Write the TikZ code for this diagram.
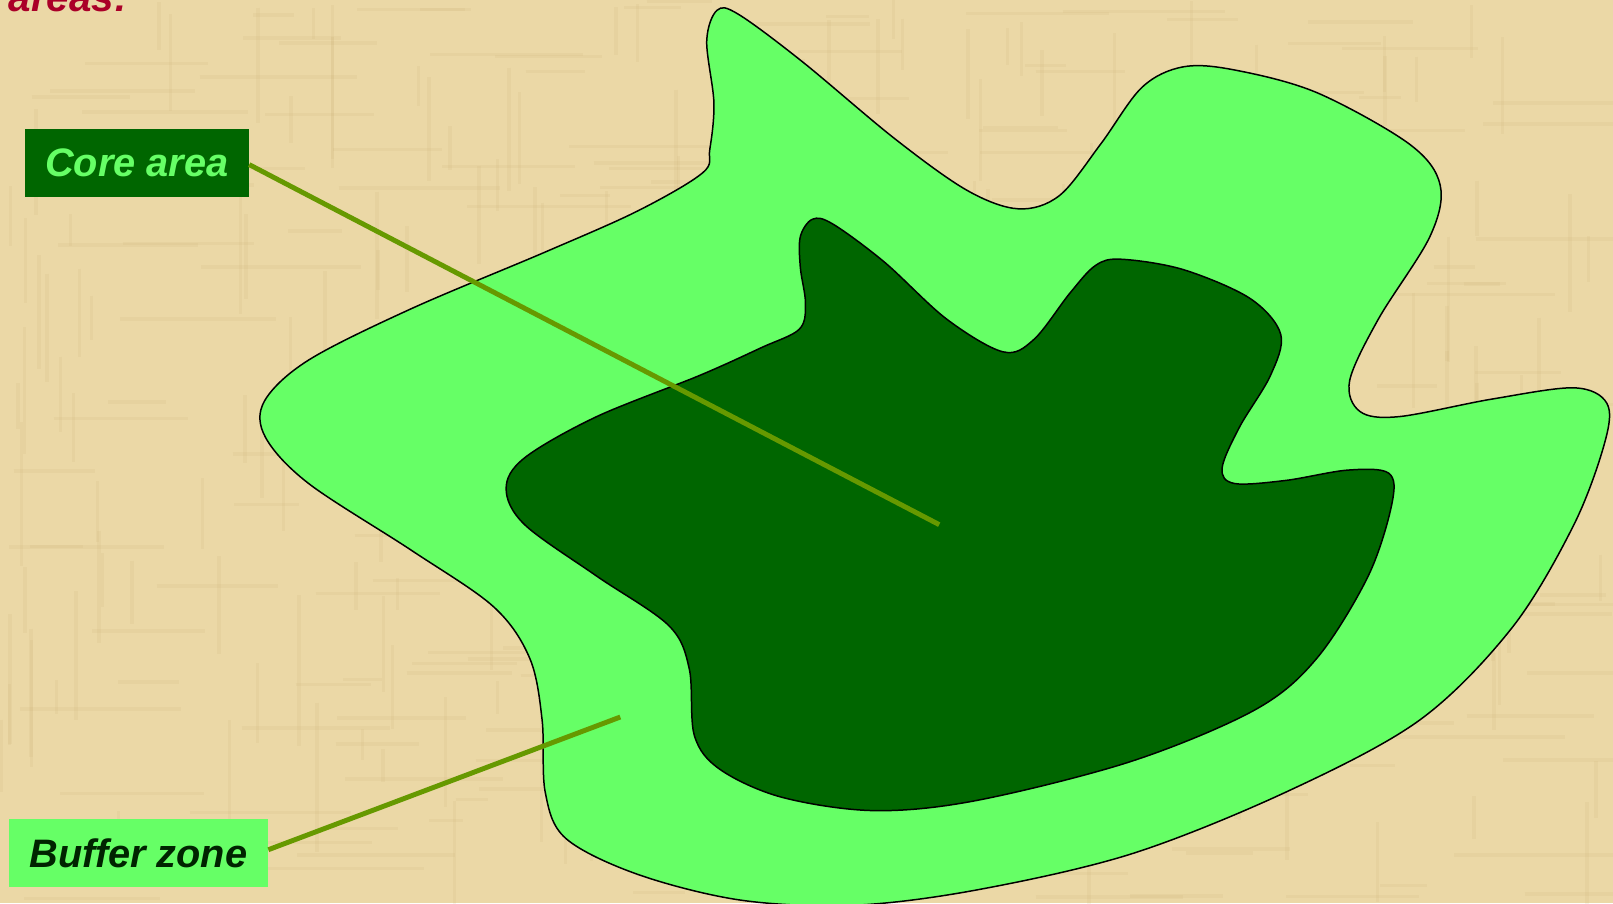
\documentclass[tikz,border=0pt]{standalone}
\usepackage{fontspec}
\setmainfont{Liberation Sans}
\usepackage{xcolor}
\usepackage{tikz}
\usetikzlibrary{positioning}

\definecolor{parchment}{RGB}{235,216,166}
\definecolor{grain}{RGB}{200,170,110}
\definecolor{bufferclr}{RGB}{102,255,102}
\definecolor{coreclr}{RGB}{0,102,0}
\definecolor{leaderclr}{RGB}{102,153,0}
\definecolor{titleclr}{RGB}{170,0,40}

\begin{document}
\begin{tikzpicture}[x=0.02057cm, y=-0.02057cm,
    zone/.style={draw=black, line width=0.85pt},
    tag/.style={inner sep=0pt, minimum height=1.36cm, font=\fontsize{22.6}{26}\selectfont\bfseries\itshape},
    leader/.style={draw=leaderclr, line width=2.8pt},
    fibre/.style={draw=grain, opacity=0.12, line width=2pt}]
    % Background
    \fill[parchment] (0,0) rectangle (1568,878);
    \useasboundingbox (0,0) rectangle (1568,878);
    \pgfmathsetseed{11}
    \foreach \i in {1,...,220} {
        \pgfmathsetmacro{\fx}{rnd*1568}
        \pgfmathsetmacro{\fy}{rnd*800}
        \pgfmathsetmacro{\fl}{30+rnd*120}
        \draw[fibre] (\fx,\fy) -- ++(0,\fl);
    }
    \foreach \i in {1,...,220} {
        \pgfmathsetmacro{\fx}{rnd*1500}
        \pgfmathsetmacro{\fy}{rnd*878}
        \pgfmathsetmacro{\fl}{30+rnd*140}
        \draw[fibre] (\fx,\fy) -- ++(\fl,0);
    }

    % Title fragment
    \node[anchor=base west, inner sep=0pt, text=titleclr, font=\fontsize{23}{27}\selectfont\bfseries\itshape] (title) at (8,11) {areas:};

    % Buffer zone (outer)
    \path[zone, fill=bufferclr] plot[smooth cycle, tension=0.55] coordinates {
        (687,40) (697,10) (718,14) (780,60) (870,135) (940,185) (990,203)
        (1030,190) (1070,140) (1110,85) (1150,65) (1200,68) (1280,90)
        (1370,140) (1400,180) (1390,230) (1340,310) (1312,370) (1322,400)
        (1360,405) (1450,388) (1530,377) (1562,392) (1560,430) (1530,510)
        (1470,610) (1380,700) (1250,770) (1100,830) (950,865) (830,880)
        (720,875) (620,850) (550,815) (530,770) (527,700) (515,640)
        (480,590) (400,535) (300,470) (258,425) (257,390) (300,350)
        (400,300) (530,245) (620,205) (683,168) (690,145) (694,100)};

    % Core area (inner)
    \path[zone, fill=coreclr] plot[smooth cycle, tension=0.55] coordinates {
        (778,230) (790,213) (810,218) (860,255) (920,310) (975,342)
        (1005,330) (1040,285) (1065,258) (1090,252) (1150,262) (1215,290)
        (1245,325) (1235,365) (1205,415) (1188,455) (1200,470) (1250,467)
        (1310,457) (1350,460) (1353,490) (1330,560) (1280,640) (1220,690)
        (1100,740) (950,778) (850,788) (760,775) (700,748) (675,715)
        (670,650) (650,608) (580,560) (510,510) (492,475) (510,445)
        (580,405) (680,365) (740,338) (777,320) (783,295) (778,260)};

    % Labels
    \node[tag, fill=coreclr, text=bufferclr, minimum width=4.48cm] (core) at (133,158.5) {Core area};
    \node[tag, fill=bufferclr, text=coreclr!35!black, minimum width=5.18cm] (buffer) at (134.6,829) {Buffer zone};

    % Leaders
    \coordinate (corept) at (913,510);
    \coordinate (bufferpt) at (603,697);
    \draw[leader] (core.east |- 0,160) -- (corept);
    \draw[leader] (buffer.east |- 0,826) -- (bufferpt);
\end{tikzpicture}
\end{document}
